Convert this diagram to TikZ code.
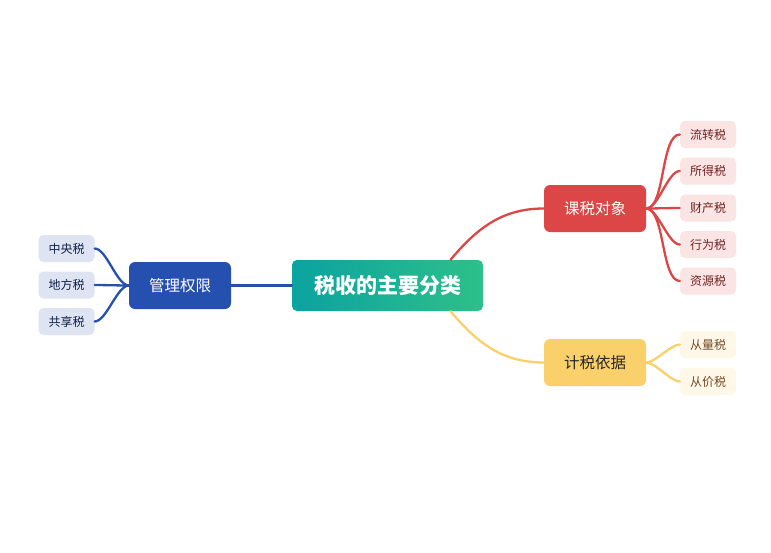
\documentclass[tikz,border=0pt]{standalone}
\usepackage{fontspec}
\setmainfont{Noto Sans CJK SC}
\usepackage{tikz}
\usetikzlibrary{positioning}
\definecolor{rootl}{RGB}{10,163,160}
\definecolor{rootr}{RGB}{45,192,138}
\definecolor{red1}{RGB}{220,70,70}
\definecolor{blue1}{RGB}{37,80,176}
\definecolor{yel1}{RGB}{250,208,107}
\definecolor{redleaf}{RGB}{251,228,228}
\definecolor{blueleaf}{RGB}{222,228,242}
\definecolor{yelleaf}{RGB}{255,248,232}
\tikzset{topic/.style = {rounded corners = 5, inner sep = 0, minimum width = 191, minimum height = 51,
                         left color = rootl, right color = rootr, text = white,
                         font = \fontsize{21}{24}\selectfont\bfseries}}
\tikzset{branch/.style = {rounded corners = 6, inner sep = 0, minimum width = 102, minimum height = 47,
                          font = \fontsize{15.5}{18}\selectfont}}
\tikzset{leaf/.style = {rounded corners = 5, inner sep = 0, minimum width = 56, minimum height = 27,
                        font = \fontsize{12}{14}\selectfont}}
\tikzset{wire/.style = {line width = 2.3, line cap = round}}
\begin{document}
\begin{tikzpicture}[x=1pt, y=-1pt]
    \useasboundingbox [fill=white] (0, 0) rectangle (771, 552);

    \node [topic] (root) at (387.5, 285.5) {税收的主要分类};

    \node [branch, fill=red1, text=white] (object) at (595, 208.5) {课税对象};
    \node [branch, fill=yel1, text=black!85] (basis) at (595, 362.5) {计税依据};
    \node [branch, fill=blue1, text=white] (power) at (180, 285.5) {管理权限};

    \node [leaf, fill=redleaf, text=red1!50!black] (liuzhuan) at (708, 134.5) {流转税};
    \node [leaf, fill=redleaf, text=red1!50!black] (suode) at (708, 171) {所得税};
    \node [leaf, fill=redleaf, text=red1!50!black] (caichan) at (708, 208) {财产税};
    \node [leaf, fill=redleaf, text=red1!50!black] (xingwei) at (708, 244.5) {行为税};
    \node [leaf, fill=redleaf, text=red1!50!black] (ziyuan) at (708, 281) {资源税};

    \node [leaf, fill=yelleaf, text=brown!60!black] (congliang) at (708, 344.5) {从量税};
    \node [leaf, fill=yelleaf, text=brown!60!black] (congjia) at (708, 381.5) {从价税};

    \node [leaf, fill=blueleaf, text=blue1!40!black] (zhongyang) at (66.5, 248.5) {中央税};
    \node [leaf, fill=blueleaf, text=blue1!40!black] (difang) at (66.5, 285) {地方税};
    \node [leaf, fill=blueleaf, text=blue1!40!black] (gongxiang) at (66.5, 321.5) {共享税};

    \draw [wire, red1] ([xshift=63]root.north) to [out=50, in=180] (object.west);
    \draw [wire, yel1] ([xshift=63]root.south) to [out=-50, in=180] (basis.west);
    \draw [wire, blue1] (root.west) -- (power.east);

    \foreach \n in {liuzhuan, suode, caichan, xingwei, ziyuan}
        \draw [wire, red1] (object.east) to [out=0, in=180, looseness=0.6] (\n.west);
    \foreach \n in {congliang, congjia}
        \draw [wire, yel1] (basis.east) to [out=0, in=180, looseness=0.6] (\n.west);
    \foreach \n in {zhongyang, difang, gongxiang}
        \draw [wire, blue1] (power.west) to [out=180, in=0, looseness=0.6] (\n.east);
  \end{tikzpicture}
\end{document}
